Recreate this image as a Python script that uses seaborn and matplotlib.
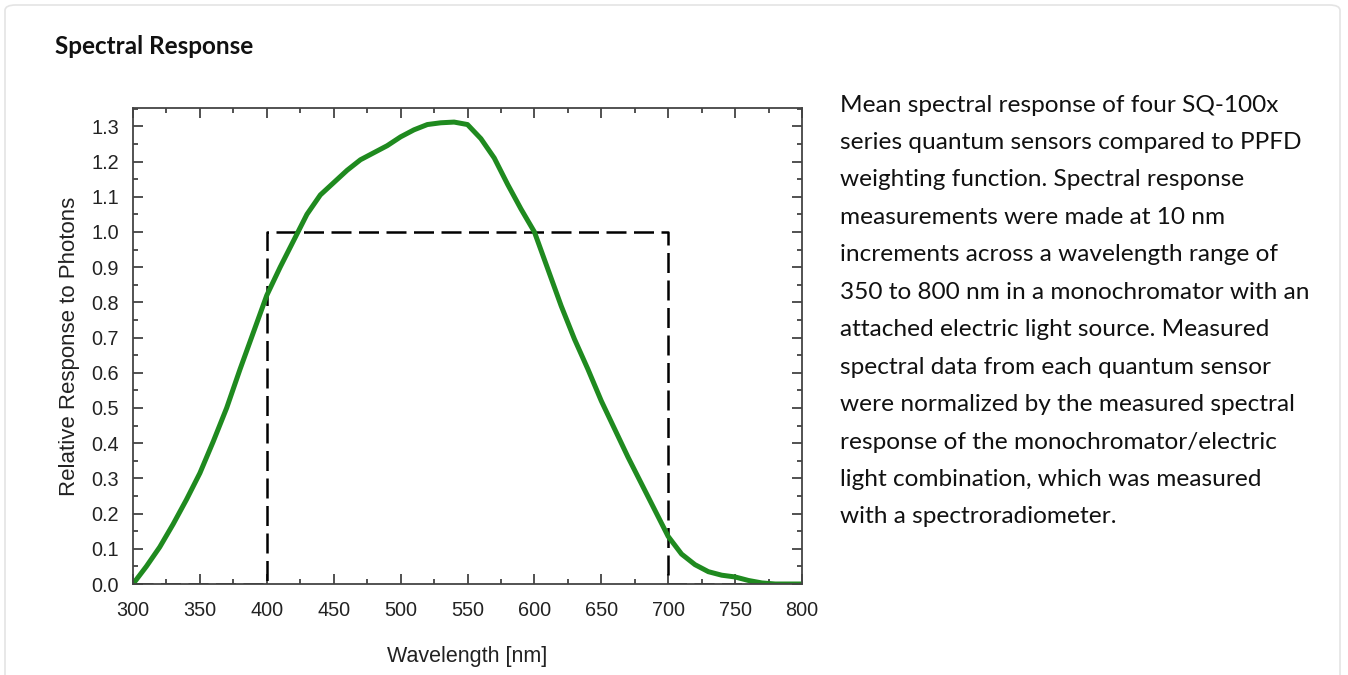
import numpy as np
import pandas as pd
import seaborn as sns
import matplotlib.pyplot as plt
from matplotlib.patches import FancyBboxPatch
from matplotlib.ticker import MultipleLocator

# mean SQ-100x response at 10 nm steps
wavelength = [300, 310, 320, 330, 340, 350, 360, 370, 380, 390,
              400, 410, 420, 430, 440, 450, 460, 470, 480, 490,
              500, 510, 520, 530, 540, 550, 560, 570, 580, 590,
              600, 610, 620, 630, 640, 650, 660, 670, 680, 690,
              700, 710, 720, 730, 740, 750, 760, 770, 780, 790, 800]
response = [0.0, 0.05, 0.105, 0.17, 0.24, 0.315, 0.405, 0.50, 0.61, 0.715,
            0.82, 0.9, 0.975, 1.05, 1.105, 1.14, 1.175, 1.205, 1.225, 1.245,
            1.27, 1.29, 1.305, 1.31, 1.312, 1.305, 1.265, 1.21, 1.135, 1.065,
            1.0, 0.895, 0.79, 0.695, 0.61, 0.52, 0.44, 0.36, 0.285, 0.21,
            0.135, 0.085, 0.055, 0.035, 0.025, 0.02, 0.01, 0.003, 0.0, 0.0, 0.0]

# PPFD weighting function (step)
ppfd_x = [300, 400, 400, 700, 700, 800]
ppfd_y = [0, 0, 1, 1, 0, 0]

caption = [
    "Mean spectral response of four SQ-100x",
    "series quantum sensors compared to PPFD",
    "weighting function. Spectral response",
    "measurements were made at 10 nm",
    "increments across a wavelength range of",
    "350 to 800 nm in a monochromator with an",
    "attached electric light source. Measured",
    "spectral data from each quantum sensor",
    "were normalized by the measured spectral",
    "response of the monochromator/electric",
    "light combination, which was measured",
    "with a spectroradiometer.",
]

sns.set_style("ticks")
plt.rcParams['font.family'] = ['Liberation Sans', 'DejaVu Sans']

df_sensor = pd.DataFrame({'Wavelength': wavelength, 'Response': response})
df_ppfd = pd.DataFrame({'Wavelength': ppfd_x, 'Response': ppfd_y})

fig = plt.figure(figsize=(13.48, 6.75), dpi=100)

# card background
card = FancyBboxPatch((5 / 1348, -0.1), 1335 / 1348, (670 + 0.1 * 675) / 675,
                      boxstyle="round,pad=0,rounding_size=0.008",
                      transform=fig.transFigure, facecolor='white',
                      edgecolor='#e4e4e4', linewidth=1.2, zorder=-10)
fig.patches.append(card)

fig.text(55 / 1348, 1 - 46 / 675, "Spectral Response", fontsize=17.5,
         fontweight='bold', family=['Lato', 'DejaVu Sans'],
         va='center', ha='left', color='#111111')

ax = fig.add_axes([133 / 1348, 1 - 584 / 675, 669 / 1348, 476 / 675])
sns.lineplot(data=df_ppfd, x='Wavelength', y='Response', ax=ax, color='black',
             linewidth=1.8, estimator=None, sort=False,
             linestyle=(0, (8, 3)))
sns.lineplot(data=df_sensor, x='Wavelength', y='Response', ax=ax,
             color='#1f8a1f', linewidth=3.6, estimator=None)

ax.set_xlim(300, 800)
ax.set_ylim(0, 1.352)
ax.xaxis.set_major_locator(MultipleLocator(50))
ax.xaxis.set_minor_locator(MultipleLocator(25))
ax.yaxis.set_minor_locator(MultipleLocator(0.05))
yt = np.round(np.arange(0, 1.31, 0.1), 1)
ax.set_yticks(yt)
ax.set_yticklabels([f"{v:.1f}" for v in yt])
ax.tick_params(which='both', direction='in', top=True, right=True,
               color='#333333', width=1.2, labelsize=14.3, labelcolor='#222222')
ax.tick_params(axis='y', which='major', length=7, pad=10)
ax.tick_params(axis='x', which='major', length=7, pad=12)
ax.tick_params(which='minor', length=3.6)
for s in ax.spines.values():
    s.set_visible(True)
    s.set_color('#444444')
    s.set_linewidth(1.3)

ax.set_xlabel("Wavelength [nm]", fontsize=15.5, color='#222222', labelpad=19)
ax.set_ylabel("Relative Response to Photons", fontsize=16, color='#222222',
              labelpad=8)

for i, line in enumerate(caption):
    fig.text(840 / 1348, 1 - (105 + i * 37.45) / 675, line, fontsize=17.6,
             family=['Lato', 'DejaVu Sans'], va='center', ha='left',
             color='#111111')

fig.savefig('out.png', dpi=100, facecolor='white')
